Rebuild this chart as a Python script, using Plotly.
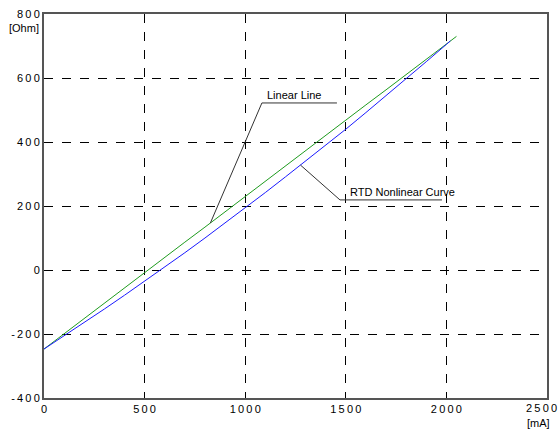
import numpy as np
import plotly.graph_objects as go

# current [mA]
x_lin = [0, 100, 200, 300, 400, 500, 600, 700, 800, 900, 1000, 1100, 1200, 1300,
         1400, 1500, 1600, 1700, 1800, 1900, 2000, 2050]
y_lin = [-247, -199, -152, -104, -56, -9, 39, 87, 134, 182, 230, 277, 325, 373,
         420, 468, 516, 563, 611, 659, 706, 730]

x_rtd = [0, 100, 200, 300, 400, 500, 600, 700, 800, 900, 1000, 1100, 1200, 1300,
         1400, 1500, 1600, 1700, 1800, 1900, 2000, 2020]
y_rtd = [-247, -206, -164, -122, -79, -35, 9, 54, 100, 147, 194, 242, 291, 340,
         390, 440, 492, 544, 597, 651, 705, 716]

x_ticks = [0, 500, 1000, 1500, 2000, 2500]
y_ticks = [-400, -200, 0, 200, 400, 600, 800]

TS = "\u2009"
def spaced(v):
    return TS.join(list(str(v)))

font = dict(family="Liberation Sans, Arial, sans-serif", size=11, color="#000")

fig = go.Figure()
fig.add_trace(go.Scatter(x=x_lin, y=y_lin, mode="lines",
                         line=dict(color="#1e9b1e", width=1), name="Linear Line"))
fig.add_trace(go.Scatter(x=x_rtd, y=y_rtd, mode="lines",
                         line=dict(color="#1a1aff", width=1), name="RTD Nonlinear Curve"))

# leader lines anchored on the curves
lx = 827
ly = float(np.interp(lx, x_lin, y_lin))
rx = 1275
ry = float(np.interp(rx, x_rtd, y_rtd))
lc = "#333333"
fig.add_shape(type="line", x0=lx, y0=ly, x1=1083, y1=522, line=dict(color=lc, width=1))
fig.add_shape(type="line", x0=1083, y0=522, x1=1456, y1=522, line=dict(color=lc, width=1))
fig.add_shape(type="line", x0=rx, y0=ry, x1=1471, y1=219, line=dict(color=lc, width=1))
fig.add_shape(type="line", x0=1471, y0=219, x1=1978, y1=219, line=dict(color=lc, width=1))

fig.add_annotation(x=1100, y=522, text="Linear Line", showarrow=False,
                   xanchor="left", yanchor="bottom", yshift=0, font=font)
fig.add_annotation(x=1511, y=219, text="RTD Nonlinear Curve", showarrow=False,
                   xanchor="left", yanchor="bottom", yshift=0, font=font)

fig.add_annotation(xref="paper", yref="paper", x=-0.006, y=1.0, yshift=-6,
                   text="[Ohm]", showarrow=False, xanchor="right", yanchor="top", font=font)
fig.add_annotation(xref="paper", yref="paper", x=1.01, y=0, yshift=-17,
                   text="[mA]", showarrow=False, xanchor="right", yanchor="top", font=font)

# last x tick label sits against the right edge of the window
x_ticktext = [spaced(v) for v in x_ticks]
last_label = x_ticktext[-1]
x_ticktext[-1] = ""
fig.add_annotation(xref="paper", yref="paper", x=1.0239, y=0, yshift=-2,
                   text=last_label, showarrow=False, xanchor="right", yanchor="top", font=font)

axis_common = dict(showline=True, mirror=True, linecolor="#555555", linewidth=2,
                   showgrid=True, gridcolor="#000000", griddash="dash", gridwidth=1,
                   zeroline=False, ticks="", tickfont=font, automargin=False)

fig.update_xaxes(range=[0, 2500], tickvals=x_ticks, ticktext=x_ticktext, **axis_common)
fig.update_yaxes(range=[-400, 800], tickvals=y_ticks,
                 ticktext=[spaced(v) for v in y_ticks], **axis_common)

fig.update_layout(width=560, height=431, showlegend=False,
                  margin=dict(l=44, r=13, t=14, b=33),
                  plot_bgcolor="#ffffff", paper_bgcolor="#ffffff")

fig.write_html("out.html", config={"displayModeBar": False},
               post_script="document.body.style.margin='0';document.body.style.overflow='hidden';")
